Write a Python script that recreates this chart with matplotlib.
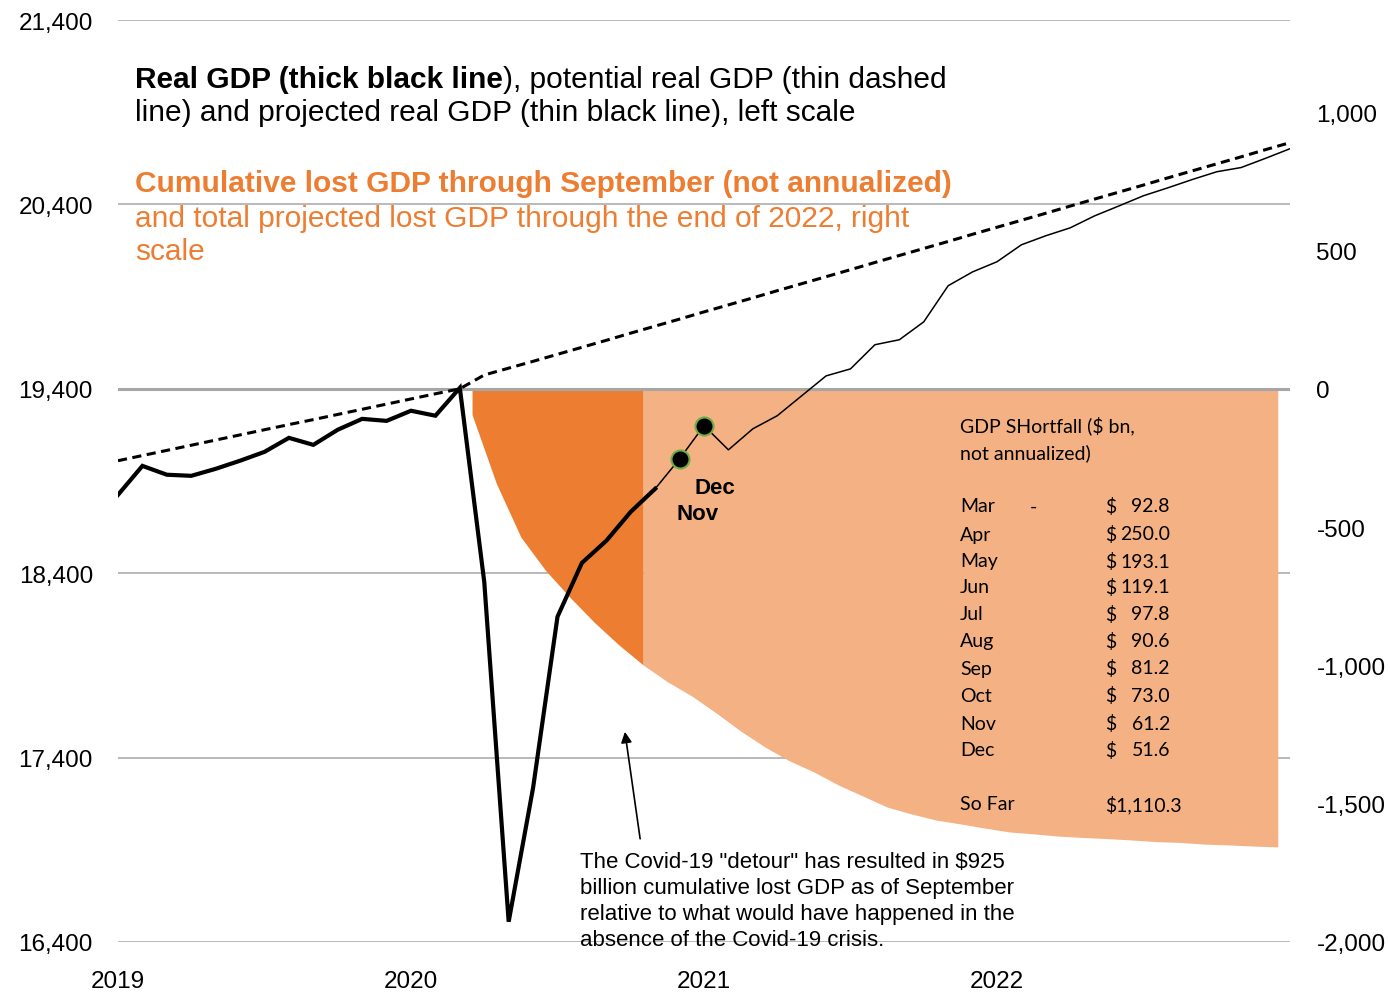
import numpy as np
import matplotlib.pyplot as plt

# monthly GDP, left scale; month 0 = Jan 2019
real_gdp = [18825, 18982, 18934, 18928, 18966, 19010, 19058, 19134, 19096, 19178,
            19237, 19226, 19281, 19254, 19405, 18353, 16510, 17236, 18164, 18456,
            18576, 18733, 18858]
potential_gdp = [19010, 19038, 19066, 19094, 19122, 19150, 19178, 19206, 19233, 19261,
                 19289, 19317, 19345, 19373, 19400, 19475, 19512, 19549, 19587, 19625,
                 19663, 19702, 19740, 19778, 19817, 19855, 19893, 19932, 19970, 20008,
                 20046, 20085, 20123, 20161, 20199, 20238, 20276, 20314, 20352, 20391,
                 20429, 20467, 20505, 20544, 20582, 20620, 20658, 20697, 20735]
# projection starts where actual data stops (month 22)
projected_gdp = [18858, 19020, 19200, 19069, 19183, 19254, 19362, 19470, 19508, 19639,
                 19666, 19763, 19959, 20034, 20089, 20181, 20230, 20273, 20338, 20392,
                 20447, 20490, 20535, 20577, 20600, 20650, 20702]
proj_start = 22
marked = [23, 24]

# cumulative lost GDP, right scale, Mar 2020 .. Dec 2022
lost_gdp = [-92.8, -342.8, -535.9, -655.0, -752.8, -843.4, -924.6, -997.6, -1058.8, -1110.4,
            -1172, -1237, -1295, -1345, -1385, -1432, -1472, -1512, -1537, -1559,
            -1573, -1588, -1602, -1609, -1617, -1622, -1626, -1631, -1637, -1640,
            -1646, -1649, -1653, -1656]
lost_start = 14.5
n_dark = 8

table_months = ['Mar', 'Apr', 'May', 'Jun', 'Jul', 'Aug', 'Sep', 'Oct', 'Nov', 'Dec']
table_values = [92.8, 250.0, 193.1, 119.1, 97.8, 90.6, 81.2, 73.0, 61.2, 51.6]
so_far = '$1,110.3'

left_ticks = [16400, 17400, 18400, 19400, 20400, 21400]
right_ticks = [-2000, -1500, -1000, -500, 0, 500, 1000]
year_ticks = [2019, 2020, 2021, 2022]

DARK = '#ED7D31'
LIGHT = '#F4B183'
GRID = '#A6A6A6'
plt.rcParams['font.family'] = ['Liberation Sans', 'DejaVu Sans']

W, H = 1390, 995
fig = plt.figure(figsize=(W / 100, H / 100), dpi=100)
ax = fig.add_axes([118 / W, 1 - 943 / H, (1290 - 118) / W, (943 - 21) / H])
ax2 = ax.twinx()
ax3 = ax.twinx()
ax.set_zorder(1)
ax2.set_zorder(2)
ax3.set_zorder(3)
for a in (ax2, ax3):
    a.patch.set_visible(False)
for a in (ax, ax2, ax3):
    for s in a.spines.values():
        s.set_visible(False)
    a.set_xlim(2019, 2023)

def fx(x):
    return x / W

def fy(y):
    return 1 - y / H

# left axis, grid
ax.set_ylim(16400, 21400)
ax.set_yticks(left_ticks)
ax.set_yticklabels([f'{v:,}' for v in left_ticks])
ax.set_xticks(year_ticks)
ax.set_xticklabels([str(y) for y in year_ticks])
ax.tick_params(axis='y', length=0, pad=18, labelsize=17.5)
ax.tick_params(axis='x', length=0, pad=20, labelsize=17.5)
ax.grid(axis='y', color=GRID, lw=1.1)
ax.set_axisbelow(True)

# right axis, lost GDP areas
ax2.set_ylim(-2000, 1334)
ax2.set_yticks(right_ticks)
ax2.set_yticklabels([f'{v:,}' for v in right_ticks])
ax2.tick_params(axis='y', length=0, pad=19, labelsize=17.5)
xl = 2019 + (lost_start + np.arange(len(lost_gdp))) / 12
ax2.fill_between(xl[n_dark - 1:], 0, lost_gdp[n_dark - 1:], color=LIGHT, lw=0)
ax2.fill_between(xl[:n_dark], 0, lost_gdp[:n_dark], color=DARK, lw=0)

# GDP lines
ax3.set_ylim(16400, 21400)
ax3.set_yticks([])
ax3.axhline(19400, color=GRID, lw=2.2, zorder=1)
xm = 2019 + np.arange(len(potential_gdp)) / 12
ax3.plot(xm, potential_gdp, color='black', lw=2.2, dashes=(3, 1.8), zorder=3)
ax3.plot(xm[:len(real_gdp)], real_gdp, color='black', lw=3, zorder=4,
         solid_joinstyle='miter')
xp = xm[proj_start:proj_start + len(projected_gdp)]
ax3.plot(xp, projected_gdp, color='black', lw=1.1, zorder=3)
ax3.plot(xm[marked], [projected_gdp[m - proj_start] for m in marked], 'o', ms=13,
         mfc='black', mec='#70AD47', mew=1.5, zorder=5)

# headings
fs = 21.5
t1 = fig.text(fx(135), fy(80), 'Real GDP (thick black line', fontsize=fs,
              fontweight='bold', va='center')
ax3.annotate('), potential real GDP (thin dashed', xy=(1, 0), xycoords=t1,
             va='bottom', fontsize=fs, annotation_clip=False)
fig.text(fx(135), fy(113), 'line) and projected real GDP (thin black line), left scale',
         fontsize=fs, va='center')
fig.text(fx(135), fy(184), 'Cumulative lost GDP through September (not annualized)',
         fontsize=fs, fontweight='bold', color=DARK, va='center')
fig.text(fx(135), fy(219), 'and total projected lost GDP through the end of 2022, right',
         fontsize=fs, color=DARK, va='center')
fig.text(fx(135), fy(252), 'scale', fontsize=fs, color=DARK, va='center')

# Nov / Dec labels
fig.text(fx(694), fy(488), 'Dec', fontsize=16, fontweight='bold', va='center')
fig.text(fx(676), fy(514), 'Nov', fontsize=16, fontweight='bold', va='center')

# shortfall table
tf = dict(fontsize=14, family=['Lato', 'DejaVu Sans'], va='center')
fig.text(fx(960), fy(426), 'GDP SHortfall ($ bn,', **tf)
fig.text(fx(960), fy(453), 'not annualized)', **tf)
rows = [507, 535, 562, 588, 615, 642, 669, 696, 724, 751]
for y, m, v in zip(rows, table_months, table_values):
    fig.text(fx(960), fy(y), m, **tf)
    fig.text(fx(1105), fy(y), '$', **tf)
    fig.text(fx(1170), fy(y), f'{v:.1f}', ha='right', **tf)
fig.text(fx(1030), fy(507), '-', **tf)
fig.text(fx(960), fy(805), 'So Far', **tf)
fig.text(fx(1105), fy(805), so_far, **tf)

# annotation
note = ['The Covid-19 "detour" has resulted in $925',
        'billion cumulative lost GDP as of September',
        'relative to what would have happened in the',
        'absence of the Covid-19 crisis.']
for i, line in enumerate(note):
    fig.text(fx(580), fy(863 + i * 25.7), line, fontsize=16, va='center', zorder=10)
ax3.annotate('', xy=(2020.730, 17540), xytext=(2020.782, 16960),
             arrowprops=dict(arrowstyle='-|>', color='black', lw=1.2,
                             mutation_scale=16, shrinkA=0, shrinkB=0))

fig.savefig('out.png', dpi=100)
